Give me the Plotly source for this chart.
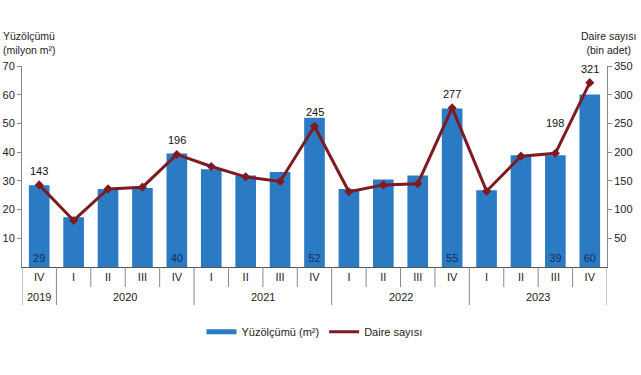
import plotly.graph_objects as go

quarters = ["IV", "I", "II", "III", "IV", "I", "II", "III", "IV",
            "I", "II", "III", "IV", "I", "II", "III", "IV"]
years = ["2019", "2020", "2021", "2022", "2023"]
year_centers = [0, 2.5, 6.5, 10.5, 14.5]
area = [28.5, 17.3, 27.2, 27.5, 39.5, 34.0, 31.9, 33.1, 52.0,
        27.2, 30.5, 31.9, 55.2, 26.7, 38.9, 38.9, 60.1]
area_labels = ["29", "", "", "", "40", "", "", "", "52",
               "", "", "", "55", "", "", "39", "60"]
dwellings = [143, 81, 136, 139, 196, 175, 157, 149, 245,
             131, 143, 145, 277, 132, 193, 198, 321]
dwelling_labels = ["143", "", "", "", "196", "", "", "", "245",
                   "", "", "", "277", "", "", "198", "321"]

BLUE = "#2B7BC4"
RED = "#7D1A22"
FONT = "Liberation Sans, Arial, sans-serif"
xs = list(range(len(quarters)))

fig = go.Figure()
fig.add_trace(go.Bar(
    x=xs, y=area, width=0.6, marker=dict(color=BLUE, line=dict(width=0)),
    text=area_labels, textposition="inside", insidetextanchor="start",
    textfont=dict(color="#1B2A55", size=11, family=FONT),
    showlegend=False, yaxis="y", cliponaxis=False))
fig.add_trace(go.Scatter(
    x=xs, y=dwellings, yaxis="y2", mode="lines+markers",
    line=dict(color=RED, width=3), marker=dict(symbol="diamond", size=7, color=RED),
    showlegend=False, cliponaxis=False))
# legend entries
fig.add_trace(go.Scatter(x=[None], y=[None], mode="lines", name="Yüzölçümü (m²)",
                         line=dict(color=BLUE, width=5)))
fig.add_trace(go.Scatter(x=[None], y=[None], mode="lines", name="Daire sayısı",
                         line=dict(color=RED, width=3), yaxis="y2"))

shapes = []
year_bounds = [-0.5, 0.5, 4.5, 8.5, 12.5, 16.5]
for b in [i + 0.5 for i in range(-1, 17)]:
    y0 = -0.189 if b in year_bounds else -0.1
    shapes.append(dict(type="line", xref="x", yref="paper", x0=b, x1=b, y0=0, y1=y0,
                       line=dict(color="#888888", width=1)))

annotations = []
for i, (v, lab) in enumerate(zip(dwellings, dwelling_labels)):
    if lab:
        annotations.append(dict(x=xs[i], y=v, xref="x", yref="y2", text=lab, showarrow=False,
                                yanchor="bottom", yshift=22 if i == 15 else 6,
                                font=dict(size=11, family=FONT, color="#111111")))
for yr, c in zip(years, year_centers):
    annotations.append(dict(x=c, y=-0.15, xref="x", yref="paper", text=yr, showarrow=False,
                            font=dict(size=11, family=FONT, color="#222222"), yanchor="middle"))
annotations.append(dict(x=0, y=1.04, xref="paper", yref="paper", xshift=-21,
                        text="Yüzölçümü<br>(milyon m²)", showarrow=False, align="left",
                        xanchor="left", yanchor="bottom",
                        font=dict(size=10.5, family=FONT, color="#222222")))
annotations.append(dict(x=1, y=1.04, xref="paper", yref="paper", xshift=31,
                        text="Daire sayısı<br>(bin adet)", showarrow=False, align="center",
                        xanchor="right", yanchor="bottom",
                        font=dict(size=10.5, family=FONT, color="#222222")))

fig.update_layout(
    width=641, height=375, margin=dict(l=22, r=34, t=66, b=108, autoexpand=False),
    paper_bgcolor="white", plot_bgcolor="white",
    font=dict(family=FONT, size=11, color="#222222"),
    bargap=0.4,
    xaxis=dict(range=[-0.5, 16.5], tickvals=xs, ticktext=quarters, showgrid=False,
               showline=True, linecolor="#555555", linewidth=1, ticks="",
               zeroline=False, tickfont=dict(size=11), automargin=False),
    yaxis=dict(range=[0, 70], tickvals=[10, 20, 30, 40, 50, 60, 70], showgrid=False,
               showline=True, linecolor="#888888", ticks="outside", ticklen=4,
               tickcolor="#888888", zeroline=False, automargin=False),
    yaxis2=dict(range=[0, 350], tickvals=[50, 100, 150, 200, 250, 300, 350], overlaying="y",
                side="right", showgrid=False, showline=True, linecolor="#888888",
                ticks="outside", ticklen=4, tickcolor="#888888", zeroline=False,
                automargin=False),
    legend=dict(orientation="h", x=0.5, xanchor="center", y=-0.25, yanchor="top",
                font=dict(size=11), itemwidth=30),
    shapes=shapes, annotations=annotations,
)
fig.write_html("out.html", config={"displayModeBar": False},
               post_script="document.body.style.margin='0px';")
